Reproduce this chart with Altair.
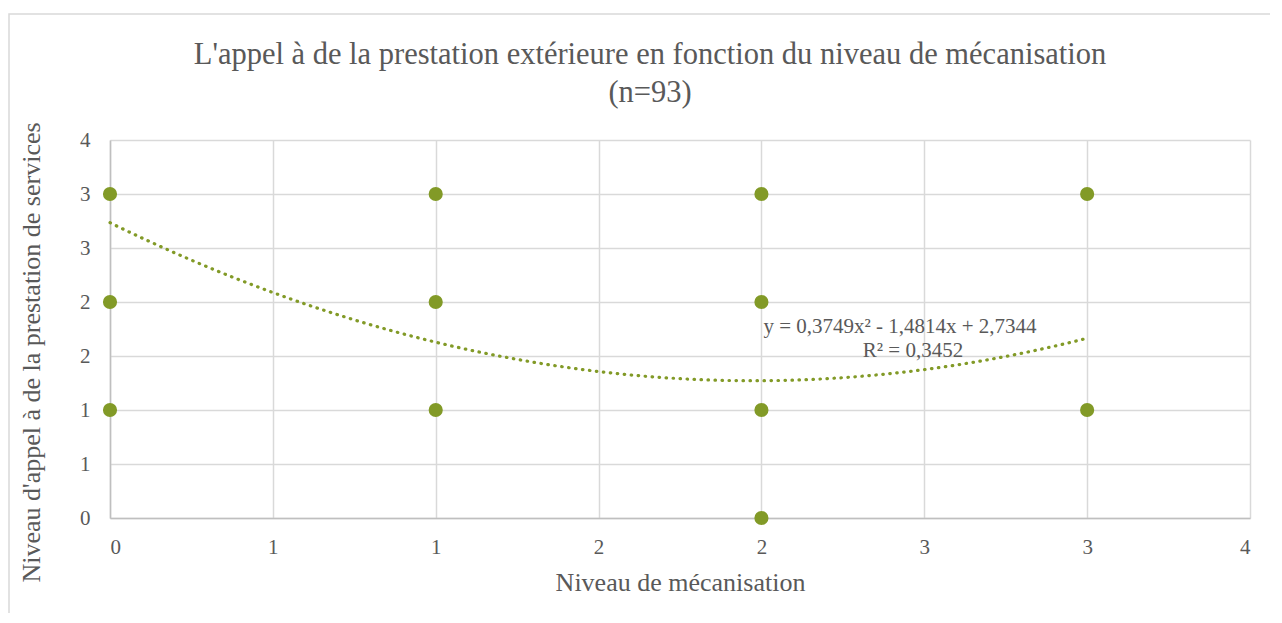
import altair as alt
import pandas as pd

# Data points (niveau de mécanisation, niveau d'appel)
mecanisation = [0, 0, 0, 1, 1, 1, 2, 2, 2, 2, 3, 3]
appel = [1, 2, 3, 1, 2, 3, 0, 1, 2, 3, 1, 3]

# Polynomial trendline coefficients shown on chart
coef_a = 0.3749
coef_b = -1.4814
coef_c = 2.7344
trend_x_min = 0
trend_x_max = 3

tick_values = [0, 0.5, 1, 1.5, 2, 2.5, 3, 3.5]

title_line1 = "L'appel à de la prestation extérieure en fonction du niveau de mécanisation"
title_line2 = "(n=93)"
eq_text = "y = 0,3749x² - 1,4814x + 2,7344"
r2_text = "R² = 0,3452"

FONT = "Liberation Serif"
GREEN = "#829a27"
GREY_TXT = "#595959"
GRID = "#d9d9d9"

df = pd.DataFrame({"x": mecanisation, "y": appel})

xscale = alt.Scale(domain=[0, 3.5], nice=False, zero=False)
yscale = alt.Scale(domain=[0, 3.5], nice=False, zero=False)

xaxis = alt.Axis(values=tick_values, labelExpr="round(datum.value)", title="Niveau de mécanisation",
                 grid=True, gridColor=GRID, gridWidth=1.5, domainColor="#bfbfbf", domainWidth=1.5,
                 ticks=False, labelPadding=18, labelFontSize=21, labelFont=FONT, labelColor=GREY_TXT,
                 titleFont=FONT, titleFontSize=26, titleColor=GREY_TXT, titleFontWeight="normal",
                 titlePadding=12)
yaxis = alt.Axis(values=tick_values, labelExpr="round(datum.value)",
                 title="Niveau d'appel à de la prestation de services",
                 grid=True, gridColor=GRID, gridWidth=1.5, domainColor="#bfbfbf", domainWidth=1.5,
                 ticks=False, labelPadding=20, labelFontSize=21, labelFont=FONT, labelColor=GREY_TXT,
                 titleFont=FONT, titleFontSize=26, titleColor=GREY_TXT, titleFontWeight="normal",
                 titlePadding=35, titleY=212)

border = alt.Chart(pd.DataFrame({"a": [0]})).mark_rect(fill=None, stroke=GRID, strokeWidth=1.5).encode(
    x=alt.value(-101), x2=alt.value(1200), y=alt.value(-126), y2=alt.value(540)
)

points = alt.Chart(df).mark_circle(size=200, color=GREEN, opacity=1).encode(
    x=alt.X("x:Q", scale=xscale, axis=xaxis),
    y=alt.Y("y:Q", scale=yscale, axis=yaxis),
)

trend = alt.Chart(alt.sequence(trend_x_min, trend_x_max + 0.001, 0.05, as_="x")).transform_calculate(
    y=f"{coef_a}*datum.x*datum.x + ({coef_b})*datum.x + {coef_c}"
).mark_line(color=GREEN, strokeWidth=3.2, strokeDash=[0.5, 6.5], strokeCap="round").encode(
    x=alt.X("x:Q", scale=xscale),
    y=alt.Y("y:Q", scale=yscale),
)

def label(txt, x, y, size):
    return alt.Chart(pd.DataFrame({"t": [txt]})).mark_text(
        font=FONT, fontSize=size, color=GREY_TXT, align="center", baseline="middle"
    ).encode(text="t:N", x=alt.value(x), y=alt.value(y))

eq = label(eq_text, 790, 187, 21)
r2 = label(r2_text, 803, 211, 21)
t1 = label(title_line1, 540, -85, 30.5)
t2 = label(title_line2, 540, -47, 30.5)

chart = alt.layer(border, points, trend, eq, r2, t1, t2).properties(
    width=1140, height=378,
    autosize=alt.AutoSizeParams(type="none"),
    padding={"left": 102, "top": 132, "right": 20, "bottom": 95},
).configure_view(stroke=None)

chart.save("out.html", embed_options={"renderer": "svg", "actions": False})
